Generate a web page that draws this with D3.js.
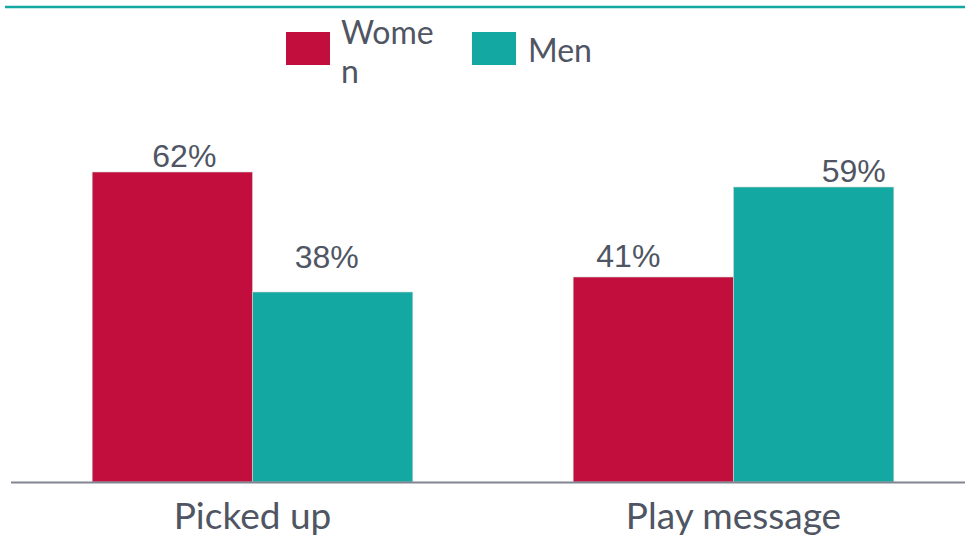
<!DOCTYPE html>
<html>
<head>
<meta charset="utf-8">
<script src="https://cdn.jsdelivr.net/npm/d3@7/dist/d3.min.js"></script>
<style>
  html, body { margin: 0; padding: 0; background: #fff; }
  svg { display: block; }
</style>
</head>
<body>
<svg id="chart" width="965" height="536"></svg>
<script>
// Share of each response, by gender (percent)
const categories = ["Picked up", "Play message"];
const seriesNames = ["Women", "Men"];
const women = [62, 41];
const men = [38, 59];
const valueLabels = [["62%", "38%"], ["41%", "59%"]];

const colors = { Women: "#c10e3c", Men: "#13a8a2" };
const textColor = "#4f5563";

// Small per-label nudges [dx, dy above bar top]
const labelNudge = [[[12, 5], [-6, 24]], [[-25, 10], [40, 5]]];

const W = 965, H = 536;
const baseY = 482;
const svg = d3.select("#chart");

const x0 = d3.scaleBand().domain(categories).range([12, 974]).paddingInner(1 / 3).paddingOuter(1 / 6);
const x1 = d3.scaleBand().domain(seriesNames).range([0, x0.bandwidth()]);
const y = d3.scaleLinear().domain([0, 100]).range([baseY, baseY - 500]);

// Top rule
svg.append("line")
  .attr("x1", 5).attr("x2", W).attr("y1", 7).attr("y2", 7)
  .attr("stroke", "#13a8a2").attr("stroke-width", 2.5);

const rows = categories.map((c, i) => ({ cat: c, idx: i, vals: [women[i], men[i]] }));

const groups = svg.append("g").selectAll("g").data(rows).join("g")
  .attr("transform", d => `translate(${x0(d.cat)},0)`);

groups.selectAll("rect")
  .data(d => d.vals.map((v, j) => ({ s: seriesNames[j], v })))
  .join("rect")
  .attr("x", d => x1(d.s))
  .attr("y", d => y(d.v))
  .attr("width", x1.bandwidth())
  .attr("height", d => y(0) - y(d.v))
  .attr("fill", d => colors[d.s])
  .attr("stroke", "#d6d6d6").attr("stroke-width", 0.6);

groups.selectAll("text.val")
  .data(d => d.vals.map((v, j) => ({ s: seriesNames[j], v, lab: valueLabels[d.idx][j], n: labelNudge[d.idx][j] })))
  .join("text")
  .attr("class", "val")
  .attr("x", d => x1(d.s) + x1.bandwidth() / 2 + d.n[0])
  .attr("y", d => y(d.v) - d.n[1])
  .attr("text-anchor", "middle")
  .attr("font-family", "'Liberation Sans', Arial, sans-serif")
  .attr("font-size", 32)
  .attr("fill", textColor)
  .text(d => d.lab);

// Baseline axis with category labels
const xAxis = d3.axisBottom(x0).tickSize(0).tickPadding(0);
const axisG = svg.append("g").attr("transform", `translate(0,${baseY})`).call(xAxis);
axisG.select(".domain").remove();
axisG.selectAll("text")
  .attr("dy", null)
  .attr("y", 47)
  .attr("font-family", "Lato, sans-serif")
  .attr("font-size", 37)
  .attr("fill", textColor);

svg.append("line")
  .attr("x1", 11).attr("x2", W).attr("y1", baseY + 0.5).attr("y2", baseY + 0.5)
  .attr("stroke", "#80858f").attr("stroke-width", 2);

// Legend
const legend = svg.append("g");
const legendItems = [
  { name: "Women", x: 286, lines: ["Wome", "n"] },
  { name: "Men", x: 472, lines: ["Men"] }
];
legendItems.forEach(item => {
  legend.append("rect")
    .attr("x", item.x).attr("y", 32).attr("width", 44).attr("height", 33)
    .attr("fill", colors[item.name]);
  const t = legend.append("text")
    .attr("font-family", "Lato, sans-serif")
    .attr("font-size", 32)
    .attr("fill", textColor);
  if (item.lines.length === 2) {
    t.append("tspan").attr("x", item.x + 55).attr("y", 44).text(item.lines[0]);
    t.append("tspan").attr("x", item.x + 55).attr("y", 83).text(item.lines[1]);
  } else {
    t.append("tspan").attr("x", item.x + 56).attr("y", 62).text(item.lines[0]);
  }
});
</script>
</body>
</html>
